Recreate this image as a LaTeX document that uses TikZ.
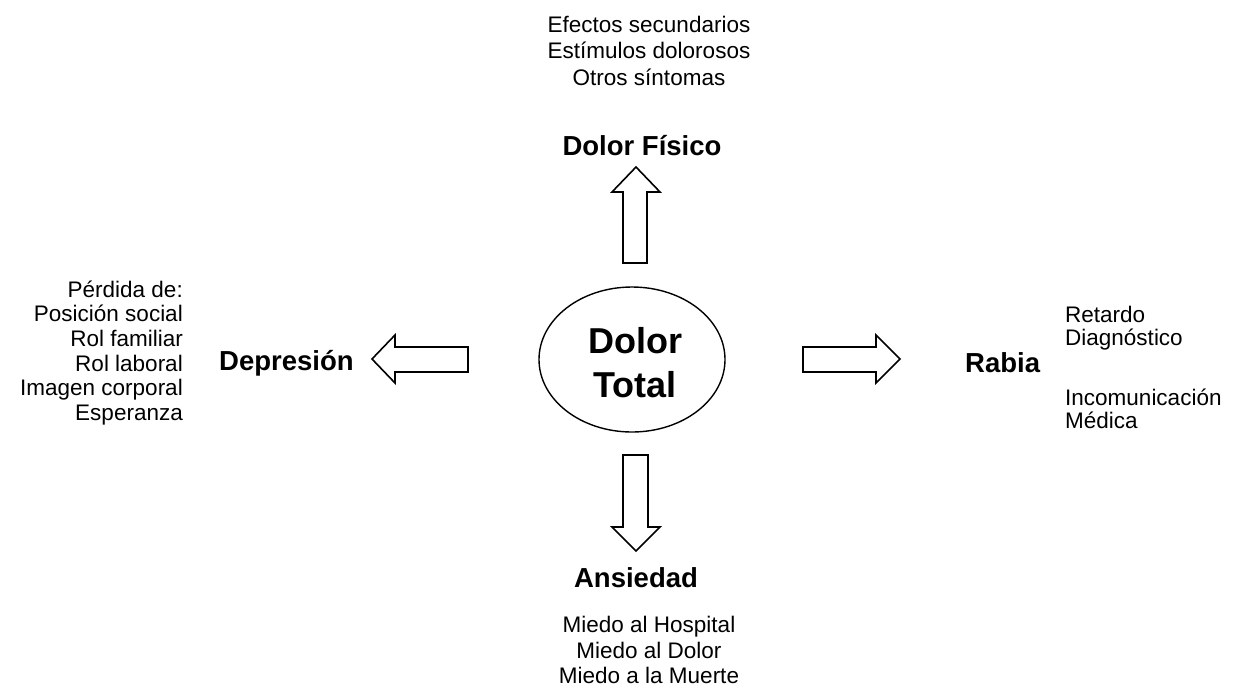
\documentclass[tikz,border=0pt]{standalone}
\usepackage{fontspec}
\setmainfont{Liberation Sans}
\begin{document}
\begin{tikzpicture}[x=1pt,y=-1pt,
  small/.style={inner sep=0pt,font=\fontsize{22.5}{27}\selectfont},
  big/.style={inner sep=0pt,font=\fontsize{27.5}{32}\selectfont\bfseries},
  huge/.style={inner sep=0pt,font=\fontsize{36}{44}\selectfont\bfseries},
  blockarrow/.style={draw=black,line width=1.6pt,fill=white,line join=miter}]
\useasboundingbox (0,0) rectangle (1233,689);
% centre ellipse
\draw[line width=1.4pt] (632,359.5) ellipse [x radius=93, y radius=72.5];
\node[huge,anchor=base] (dolor) at (635,353) {Dolor};
\node[huge,anchor=base] (total) at (635,397) {Total};
% block arrows
\draw[blockarrow] (623,263) -- (623,192) -- (612,192) -- (636,167) -- (660,192) -- (647,192) -- (647,263) -- cycle;
\draw[blockarrow] (623,455) -- (623,527) -- (612,527) -- (636,551) -- (660,527) -- (648,527) -- (648,455) -- cycle;
\draw[blockarrow] (468,347) -- (395,347) -- (395,335) -- (372,359) -- (395,383) -- (395,372) -- (468,372) -- cycle;
\draw[blockarrow] (803,347) -- (876,347) -- (876,335) -- (900,359) -- (876,383) -- (876,372) -- (803,372) -- cycle;
% top
\node[small,anchor=base] (t1) at (649,32) {Efectos secundarios};
\node[small,anchor=base] (t2) at (649,58.5) {Estímulos dolorosos};
\node[small,anchor=base] (t3) at (649,85) {Otros síntomas};
\node[big,anchor=base] (fisico) at (642,155) {Dolor Físico};
% left
\node[small,anchor=base east] (l1) at (183,297) {Pérdida de:};
\node[small,anchor=base east] (l2) at (183,321.7) {Posición social};
\node[small,anchor=base east] (l3) at (183,346.4) {Rol familiar};
\node[small,anchor=base east] (l4) at (183,371.1) {Rol laboral};
\node[small,anchor=base east] (l5) at (183,395.8) {Imagen corporal};
\node[small,anchor=base east] (l6) at (183,420.5) {Esperanza};
\node[big,anchor=base west] (depresion) at (219,370) {Depresión};
% right
\node[big,anchor=base west] (rabia) at (965,372) {Rabia};
\node[small,anchor=base west] (r1) at (1065,322) {Retardo};
\node[small,anchor=base west] (r2) at (1065,345) {Diagnóstico};
\node[small,anchor=base west] (r3) at (1065,405) {Incomunicación};
\node[small,anchor=base west] (r4) at (1065,428) {Médica};
% bottom
\node[big,anchor=base] (ansiedad) at (636,587) {Ansiedad};
\node[small,anchor=base] (b1) at (649,632) {Miedo al Hospital};
\node[small,anchor=base] (b2) at (649,658) {Miedo al Dolor};
\node[small,anchor=base] (b3) at (649,683) {Miedo a la Muerte};
\end{tikzpicture}
\end{document}
